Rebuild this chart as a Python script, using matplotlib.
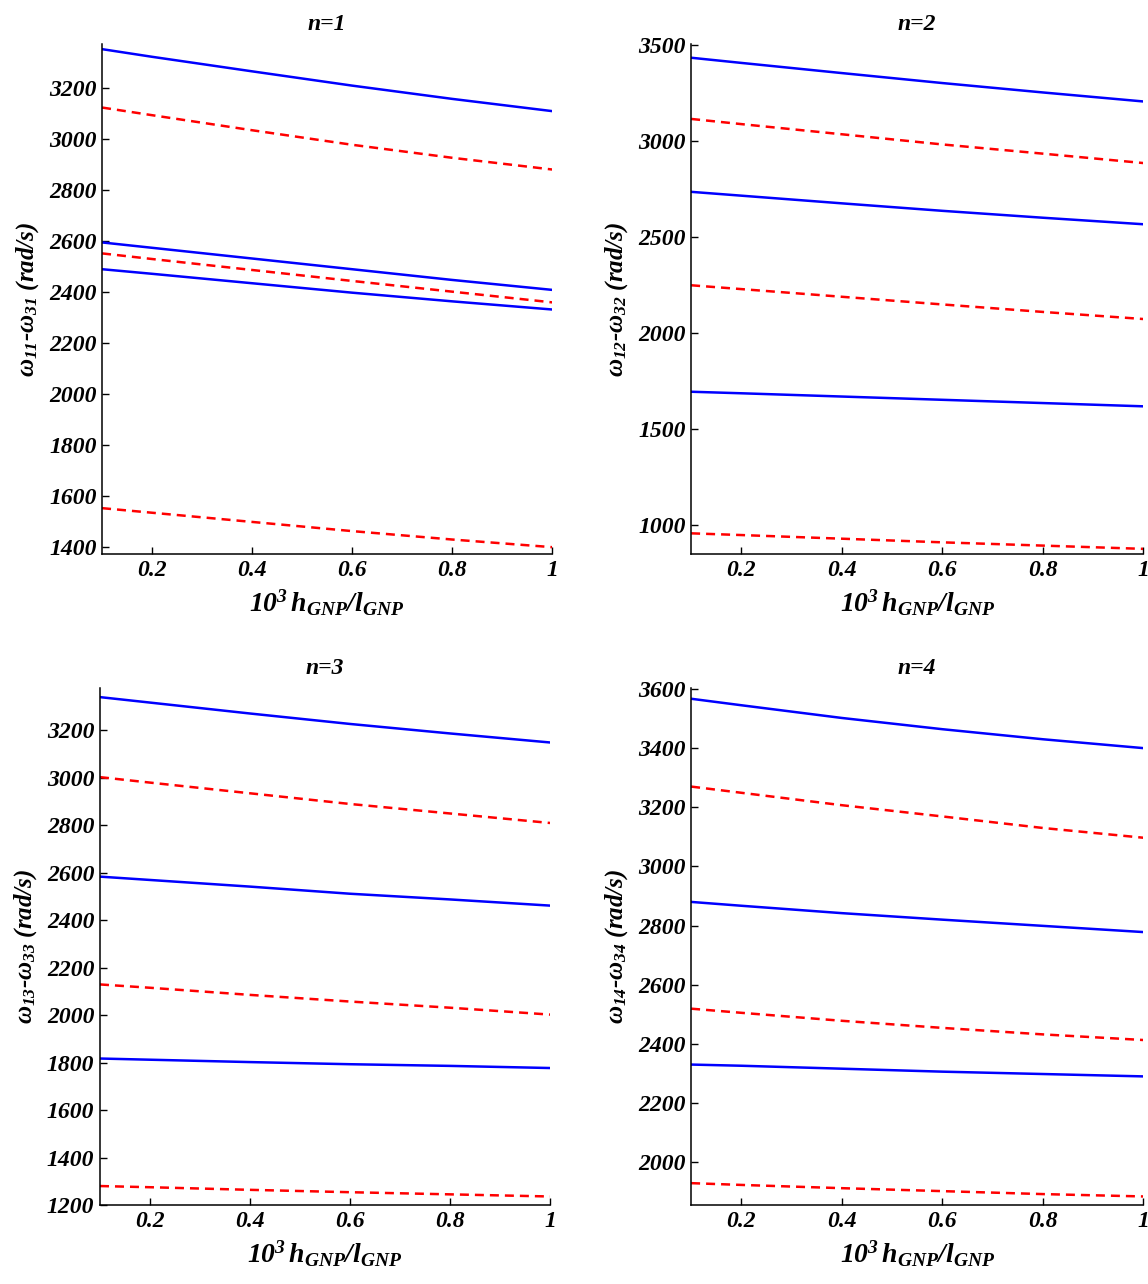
import numpy as np
import matplotlib
matplotlib.use("Agg")
from matplotlib import pyplot as plt
from matplotlib.ticker import FuncFormatter

plt.rcParams['font.family'] = 'Liberation Serif'
plt.rcParams['font.weight'] = 'bold'
plt.rcParams['font.style'] = 'italic'
plt.rcParams['axes.titleweight'] = 'bold'
plt.rcParams['axes.labelweight'] = 'bold'
plt.rcParams['mathtext.fontset'] = 'custom'
plt.rcParams['mathtext.rm'] = 'Liberation Serif:italic:bold'
plt.rcParams['mathtext.it'] = 'Liberation Serif:italic:bold'
plt.rcParams['mathtext.bf'] = 'Liberation Serif:italic:bold'

# x axis: 10^3 h_GNP / l_GNP
x = [0.1, 0.2, 0.4, 0.6, 0.8, 1.0]

# n=1
n1_blue = [[3351, 3321, 3264, 3208, 3156, 3108],
           [2593, 2572, 2530, 2488, 2446, 2407],
           [2488, 2470, 2433, 2396, 2362, 2330]]
n1_red = [[3122, 3092, 3033, 2976, 2925, 2879],
          [2550, 2528, 2485, 2442, 2400, 2358],
          [1551, 1533, 1497, 1461, 1428, 1398]]

# n=2
n2_blue = [[3435, 3408, 3355, 3303, 3254, 3207],
           [2736, 2716, 2676, 2637, 2601, 2567],
           [1694, 1686, 1669, 1652, 1635, 1618]]
n2_red = [[3116, 3089, 3036, 2983, 2935, 2886],
          [2249, 2229, 2189, 2149, 2110, 2073],
          [956, 947, 928, 909, 892, 875]]

# n=3
n3_blue = [[3339, 3316, 3270, 3226, 3186, 3148],
           [2583, 2569, 2541, 2511, 2487, 2461],
           [1817, 1812, 1802, 1793, 1786, 1777]]
n3_red = [[3002, 2979, 2934, 2889, 2849, 2809],
          [2129, 2115, 2085, 2057, 2031, 2002],
          [1280, 1275, 1264, 1254, 1245, 1236]]

# n=4
n4_blue = [[3567, 3545, 3502, 3464, 3430, 3400],
           [2880, 2867, 2842, 2820, 2799, 2778],
           [2330, 2326, 2316, 2306, 2298, 2290]]
n4_red = [[3270, 3249, 3207, 3169, 3130, 3097],
          [2519, 2505, 2478, 2454, 2432, 2413],
          [1929, 1923, 1912, 1902, 1892, 1884]]

titles = ['n=1', 'n=2', 'n=3', 'n=4']
ylabels = [r'$\omega_{11}$-$\omega_{31}$ (rad/s)', r'$\omega_{12}$-$\omega_{32}$ (rad/s)',
           r'$\omega_{13}$-$\omega_{33}$ (rad/s)', r'$\omega_{14}$-$\omega_{34}$ (rad/s)']
ylims = [(1371, 3370), (848, 3505), (1200, 3377), (1855, 3603)]
yticks = [np.arange(1400, 3201, 200), np.arange(1000, 3501, 500),
          np.arange(1200, 3201, 200), np.arange(2000, 3601, 200)]
xticks = [0.2, 0.4, 0.6, 0.8, 1.0]

blues = [n1_blue, n2_blue, n3_blue, n4_blue]
reds = [n1_red, n2_red, n3_red, n4_red]

fig = plt.figure(figsize=(11.48, 12.84), dpi=100)
positions = [[0.0889, 0.5685, 0.392, 0.397],
             [0.602, 0.5685, 0.394, 0.397],
             [0.0871, 0.0615, 0.392, 0.4026],
             [0.602, 0.0615, 0.394, 0.4026]]

for i in range(4):
    ax = fig.add_axes(positions[i])
    for b in blues[i]:
        ax.plot(x, b, color='#0000FF', lw=1.8)
    for r in reds[i]:
        ax.plot(x, r, color='#FF0000', lw=1.8, linestyle=(0, (3.6, 2.4)))
    ax.set_xlim(0.1, 1.0)
    ax.set_ylim(*ylims[i])
    ax.set_xticks(xticks)
    ax.set_yticks(yticks[i])
    ax.xaxis.set_major_formatter(FuncFormatter(lambda v, p: '{:g}'.format(round(v, 2))))
    ax.spines['top'].set_visible(False)
    ax.spines['right'].set_visible(False)
    for s in ['left', 'bottom']:
        ax.spines[s].set_linewidth(1.1)
    ax.tick_params(direction='in', length=5, width=1, labelsize=17, pad=4)
    ax.set_title(titles[i], fontsize=17, pad=10)
    ax.set_xlabel(r'$10^3\,h_{GNP}/l_{GNP}$', fontsize=20, labelpad=5)
    ax.set_ylabel(ylabels[i], fontsize=18, labelpad=6)

fig.savefig('out.png', dpi=100)
